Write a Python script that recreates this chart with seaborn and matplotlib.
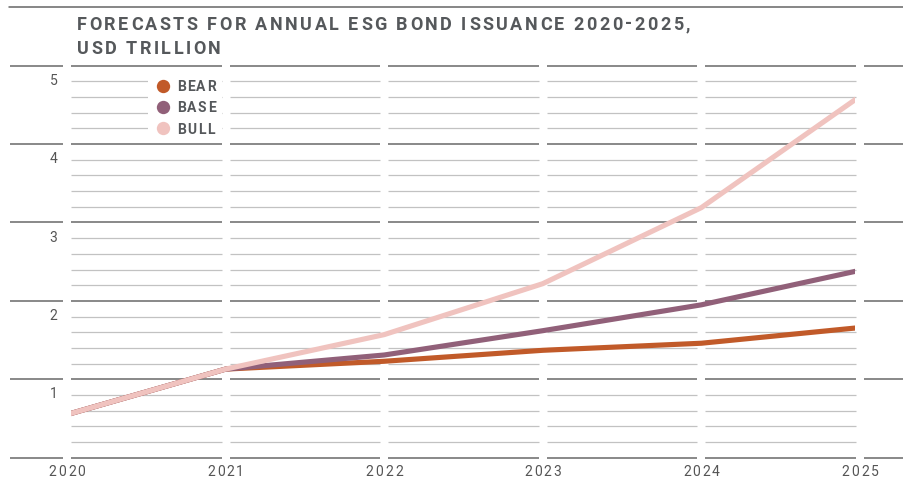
import matplotlib
matplotlib.use("Agg")
import matplotlib.pyplot as plt
import seaborn as sns
import pandas as pd
from matplotlib.font_manager import FontProperties, findfont
from matplotlib.ft2font import FT2Font
from matplotlib.transforms import IdentityTransform
from matplotlib.lines import Line2D
from matplotlib.patches import Rectangle

# ---------------- data ----------------
years = [2020, 2021, 2022, 2023, 2024, 2025]
bear = [0.55, 1.13, 1.23, 1.37, 1.46, 1.66]
base = [0.55, 1.13, 1.31, 1.62, 1.95, 2.39]
bull = [0.55, 1.13, 1.57, 2.22, 3.19, 4.61]
scenarios = ["BEAR", "BASE", "BULL"]
palette = {"BEAR": "#c15a29", "BASE": "#916079", "BULL": "#f0c3bf"}
title_lines = ["FORECASTS FOR ANNUAL ESG BOND ISSUANCE 2020-2025,", "USD TRILLION"]
y_labels = [1, 2, 3, 4, 5]

df = pd.DataFrame({
    "year": years * 3,
    "value": bear + base + bull,
    "scenario": sum([[s] * len(years) for s in scenarios], []),
})

sns.set_style("white")
plt.rcParams["font.family"] = ["Roboto", "DejaVu Sans"]

W, H = 904, 480
fig = plt.figure(figsize=(W / 100, H / 100), dpi=100)
fig.patch.set_facecolor("white")

PX = 158.6      # pixels per year (column width)
G0 = 67.0       # pixel x of 2020 gap centre
HALF = 4.0      # half gap width
Y0, Y5 = 457.7, 65.7   # pixel rows of value 0 and 5
AX_L, AX_R = 71, 855

ax = fig.add_axes([AX_L / W, 1 - Y0 / H, (AX_R - AX_L) / W, (Y0 - Y5) / H])
ax.set_xlim(2020 + (AX_L - G0) / PX, 2020 + (AX_R - G0) / PX)
ax.set_ylim(0, 5)
ax.axis("off")

# ---------------- column grid ----------------
cols_mid = [(y + HALF / PX, y + 1 - HALF / PX) for y in years[:-1]]
col_first = (2020 - (G0 - 10) / PX, 2020 - HALF / PX)
col_last = (2025 + HALF / PX, 2025 + (W - (G0 + 5 * PX)) / PX)
major_c, minor_c = "#6e6e6e", "#c2c2c2"
for (x0, x1) in [col_first] + cols_mid + [col_last]:
    for v in range(0, 6):
        ax.plot([x0, x1], [v, v], color=major_c, lw=1.15, clip_on=False,
                solid_capstyle="butt", zorder=1)
for (x0, x1) in cols_mid:
    for k in range(25):
        v = k * 0.2
        if k % 5 == 0:
            continue
        ax.plot([x0, x1], [v, v], color=minor_c, lw=0.9, clip_on=False,
                solid_capstyle="butt", zorder=1)

# ---------------- data lines ----------------
sns.lineplot(data=df, x="year", y="value", hue="scenario", hue_order=scenarios,
             palette=palette, linewidth=3.7, legend=False, ax=ax, zorder=3)
for ln in ax.lines[-3:]:
    ln.set_solid_capstyle("butt")
    ln.set_solid_joinstyle("round")

# ---------------- text helpers ----------------
def advances(s, fp):
    font = FT2Font(findfont(fp))
    font.set_size(fp.get_size_in_points(), 100)
    return [font.load_char(ord(ch)).linearHoriAdvance / 65536 for ch in s]


def spacing_for(s, fp, target):
    a = advances(s, fp)
    return (target - sum(a)) / (len(s) - 1)


def draw_spaced(s, x, baseline, fp, spacing, color, ha="left"):
    a = advances(s, fp)
    total = sum(a) + spacing * (len(s) - 1)
    if ha == "center":
        x -= total / 2
    elif ha == "right":
        x -= total
    for ch, w in zip(s, a):
        if ch != " ":
            fig.text(x, H - baseline, ch, transform=IdentityTransform(),
                     fontproperties=fp, color=color, ha="left", va="baseline")
        x += w + spacing


text_c = "#55585b"
# top rule
fig.add_artist(Line2D([9, W], [H - 6.7, H - 6.7], transform=IdentityTransform(),
                      color="#666666", lw=1.1))

# title
fp_title = FontProperties(family="Roboto", weight="bold", size=13)
sp_title = spacing_for(title_lines[0], fp_title, 613)
draw_spaced(title_lines[0], 77, 29.5, fp_title, sp_title, text_c)
draw_spaced(title_lines[1], 77, 54.0, fp_title, sp_title, text_c)

# y labels
fp_tick = FontProperties(family="Roboto", weight="normal", size=10)
for v in y_labels:
    line_px = Y0 - v * (Y0 - Y5) / 5
    draw_spaced(str(v), 57.5, line_px + 19, fp_tick, 0, "#555555", ha="right")

# x labels
sp_year = spacing_for("2020", fp_tick, 37)
for i, yr in enumerate(years):
    draw_spaced(str(yr), G0 + PX * i, 476.5, fp_tick, sp_year, "#555555", ha="center")

# legend
ax.add_patch(Rectangle((148, H - 140), 74, 68, transform=IdentityTransform(),
                       facecolor="white", edgecolor="none", zorder=2, clip_on=False))
fp_leg = FontProperties(family="Roboto", weight="bold", size=10)
sp_leg = spacing_for("BEAR", fp_leg, 39)
for s, yc in zip(scenarios, [86, 107.3, 128.3]):
    fig.add_artist(Line2D([163], [H - yc], transform=IdentityTransform(),
                          marker="o", markersize=9.6, linestyle="none",
                          markerfacecolor=palette[s], markeredgecolor="none"))
    draw_spaced(s, 177, yc + 5.2, fp_leg, sp_leg, text_c)

fig.savefig("out.png", dpi=100, facecolor="white")
